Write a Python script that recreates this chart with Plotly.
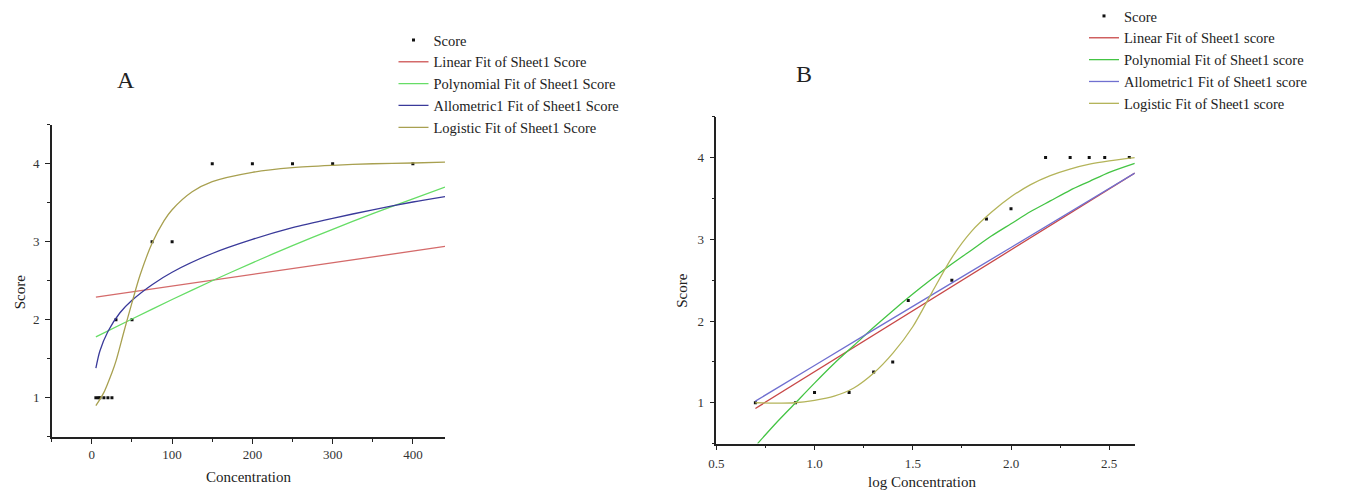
import plotly.graph_objects as go

W, H = 1351, 491

# ---------------- Panel A data ----------------
conc_A = [5, 8, 10, 15, 20, 25, 30, 50, 75, 100, 150, 200, 250, 300, 400]
score_A = [1, 1, 1, 1, 1, 1, 2, 2, 3, 3, 4, 4, 4, 4, 4]

lin_A_x = [5, 440]
lin_A_y = [2.29, 2.94]

poly_A_x = [5, 50, 100, 150, 200, 250, 300, 350, 400, 440]
poly_A_y = [1.78, 2.01, 2.26, 2.50, 2.73, 2.95, 3.16, 3.36, 3.55, 3.70]

allo_A_x = [5, 10, 20, 35, 50, 75, 100, 150, 200, 250, 300, 350, 400, 440]
allo_A_y = [1.38, 1.60, 1.85, 2.09, 2.25, 2.45, 2.61, 2.85, 3.03, 3.18, 3.30, 3.41, 3.51, 3.58]

logi_A_x = [5, 10, 15, 20, 25, 30, 40, 50, 60, 75, 90, 100, 125, 150, 200, 250, 300, 350, 400, 440]
logi_A_y = [0.90, 0.98, 1.07, 1.19, 1.32, 1.47, 1.85, 2.22, 2.57, 2.98, 3.27, 3.41, 3.64, 3.77,
            3.89, 3.95, 3.98, 4.00, 4.01, 4.02]

# ---------------- Panel B data ----------------
logc_B = [0.699, 0.903, 1.0, 1.176, 1.301, 1.398, 1.477, 1.699, 1.875, 2.0,
          2.176, 2.301, 2.398, 2.477, 2.602]
score_B = [1.0, 1.0, 1.125, 1.125, 1.375, 1.5, 2.25, 2.5, 3.25, 3.375, 4, 4, 4, 4, 4]

lin_B_x = [0.699, 2.63]
lin_B_y = [0.93, 3.81]

poly_B_x = [0.71, 0.8, 0.9, 1.0, 1.1, 1.2, 1.3, 1.4, 1.5, 1.6, 1.7, 1.8, 1.9, 2.0,
            2.1, 2.2, 2.3, 2.4, 2.5, 2.63]
poly_B_y = [0.50, 0.74, 0.99, 1.24, 1.48, 1.70, 1.92, 2.13, 2.33, 2.52, 2.70, 2.87, 3.04, 3.19,
            3.34, 3.47, 3.60, 3.71, 3.82, 3.93]

allo_B_x = [0.699, 1.0, 1.5, 2.0, 2.63]
allo_B_y = [1.02, 1.456, 2.18, 2.90, 3.81]

logi_B_x = [0.699, 0.8, 0.9, 1.0, 1.1, 1.2, 1.3, 1.4, 1.5, 1.6, 1.7, 1.8, 1.9, 2.0,
            2.1, 2.2, 2.3, 2.4, 2.5, 2.63]
logi_B_y = [1.00, 0.995, 1.00, 1.03, 1.08, 1.18, 1.36, 1.61, 1.93, 2.36, 2.78, 3.10, 3.33, 3.52,
            3.67, 3.78, 3.86, 3.92, 3.96, 4.00]

names_A = ["Score", "Linear Fit of Sheet1 Score", "Polynomial Fit of Sheet1 Score",
           "Allometric1 Fit of Sheet1 Score", "Logistic Fit of Sheet1 Score"]
names_B = ["Score", "Linear Fit of Sheet1 score", "Polynomial Fit of Sheet1 score",
           "Allometric1 Fit of Sheet1 score", "Logistic Fit of Sheet1 score"]

colors_A = ["#d46a6a", "#66dd66", "#3a3a9a", "#a8a050"]
colors_B = ["#c84848", "#44c444", "#7070d0", "#b4b45a"]

FONT = "Liberation Serif, Times New Roman, serif"

fig = go.Figure()

def add_panel(xs, ys, fits, names, colors, xa, ya, leg):
    fig.add_trace(go.Scatter(
        x=xs, y=ys, mode="markers", name=names[0], xaxis=xa, yaxis=ya, legend=leg,
        marker=dict(symbol="square", size=3, color="#111111")))
    for (fx, fy), nm, col in zip(fits, names[1:], colors):
        fig.add_trace(go.Scatter(
            x=fx, y=fy, mode="lines", name=nm, xaxis=xa, yaxis=ya, legend=leg,
            line=dict(color=col, width=1.3, shape="spline", smoothing=0.8)))

add_panel(conc_A, score_A,
          [(lin_A_x, lin_A_y), (poly_A_x, poly_A_y), (allo_A_x, allo_A_y), (logi_A_x, logi_A_y)],
          names_A, colors_A, "x", "y", "legend")
add_panel(logc_B, score_B,
          [(lin_B_x, lin_B_y), (poly_B_x, poly_B_y), (allo_B_x, allo_B_y), (logi_B_x, logi_B_y)],
          names_B, colors_B, "x2", "y2", "legend2")

axis_common = dict(showline=True, linecolor="#222222", linewidth=1.5, showgrid=False,
                   zeroline=False, ticks="outside", ticklen=5, tickwidth=1.2,
                   tickcolor="#222222",
                   tickfont=dict(family=FONT, size=13, color="#333333"))

fig.update_layout(
    width=W, height=H, margin=dict(l=0, r=0, t=0, b=0),
    paper_bgcolor="white", plot_bgcolor="white", showlegend=True,
    xaxis=dict(domain=[44 / W, 439.6 / W], range=[-50, 440], anchor="y",
               tickvals=[0, 100, 200, 300, 400],
               minor=dict(ticks="outside", ticklen=3, tickvals=[-50, 50, 150, 250, 350],
                          tickcolor="#222222"),
               **axis_common),
    yaxis=dict(domain=[1 - 436.7 / H, 1 - 124 / H], range=[0.5, 4.5], anchor="x",
               tickvals=[1, 2, 3, 4], ticklabelstandoff=3,
               minor=dict(ticks="outside", ticklen=3, tickvals=[0.5, 1.5, 2.5, 3.5, 4.5],
                          tickcolor="#222222"),
               **axis_common),
    xaxis2=dict(domain=[712.5 / W, 1133.5 / W], range=[0.5, 2.63], anchor="y2",
                tickvals=[0.5, 1.0, 1.5, 2.0, 2.5], ticktext=["0.5", "1.0", "1.5", "2.0", "2.5"],
                ticklabelstandoff=2,
                minor=dict(ticks="outside", ticklen=3, tickvals=[0.75, 1.25, 1.75, 2.25],
                           tickcolor="#222222"),
                **axis_common),
    yaxis2=dict(domain=[1 - 443.5 / H, 1 - 116 / H], range=[0.5, 4.5], anchor="x2",
                tickvals=[1, 2, 3, 4], ticklabelstandoff=3,
                minor=dict(ticks="outside", ticklen=3, tickvals=[0.5, 1.5, 2.5, 3.5, 4.5],
                           tickcolor="#222222"),
                **axis_common),
    legend=dict(x=387.8 / W, y=1 - 23 / H, xanchor="left", yanchor="top",
                bgcolor="rgba(0,0,0,0)", borderwidth=0,
                font=dict(family=FONT, size=14.5, color="#222222")),
    legend2=dict(x=1082.4 / W, y=1 + 1 / H, xanchor="left", yanchor="top",
                 bgcolor="rgba(0,0,0,0)", borderwidth=0,
                 font=dict(family=FONT, size=14.5, color="#222222")),
)

annots = [
    dict(text="A", x=118.9 / W, y=1 - 79.3 / H, font=dict(size=24)),
    dict(text="B", x=800.4 / W, y=1 - 73.3 / H, font=dict(size=24)),
    dict(text="Concentration", x=241.5 / W, y=1 - 477 / H, font=dict(size=15)),
    dict(text="Score", x=12 / W, y=1 - 292 / H, font=dict(size=15), textangle=-90),
    dict(text="log Concentration", x=919 / W, y=1 - 482 / H, font=dict(size=15)),
    dict(text="Score", x=678.4 / W, y=1 - 290 / H, font=dict(size=15), textangle=-90),
]
for a in annots:
    f = dict(family=FONT, color="#222222")
    f.update(a.pop("font"))
    fig.add_annotation(xref="paper", yref="paper", xanchor="center", yanchor="middle",
                       showarrow=False, font=f, **a)

fig.write_html(
    "out.html",
    config={"displayModeBar": False},
    post_script="document.body.style.margin='0';document.body.style.overflow='hidden';",
)
